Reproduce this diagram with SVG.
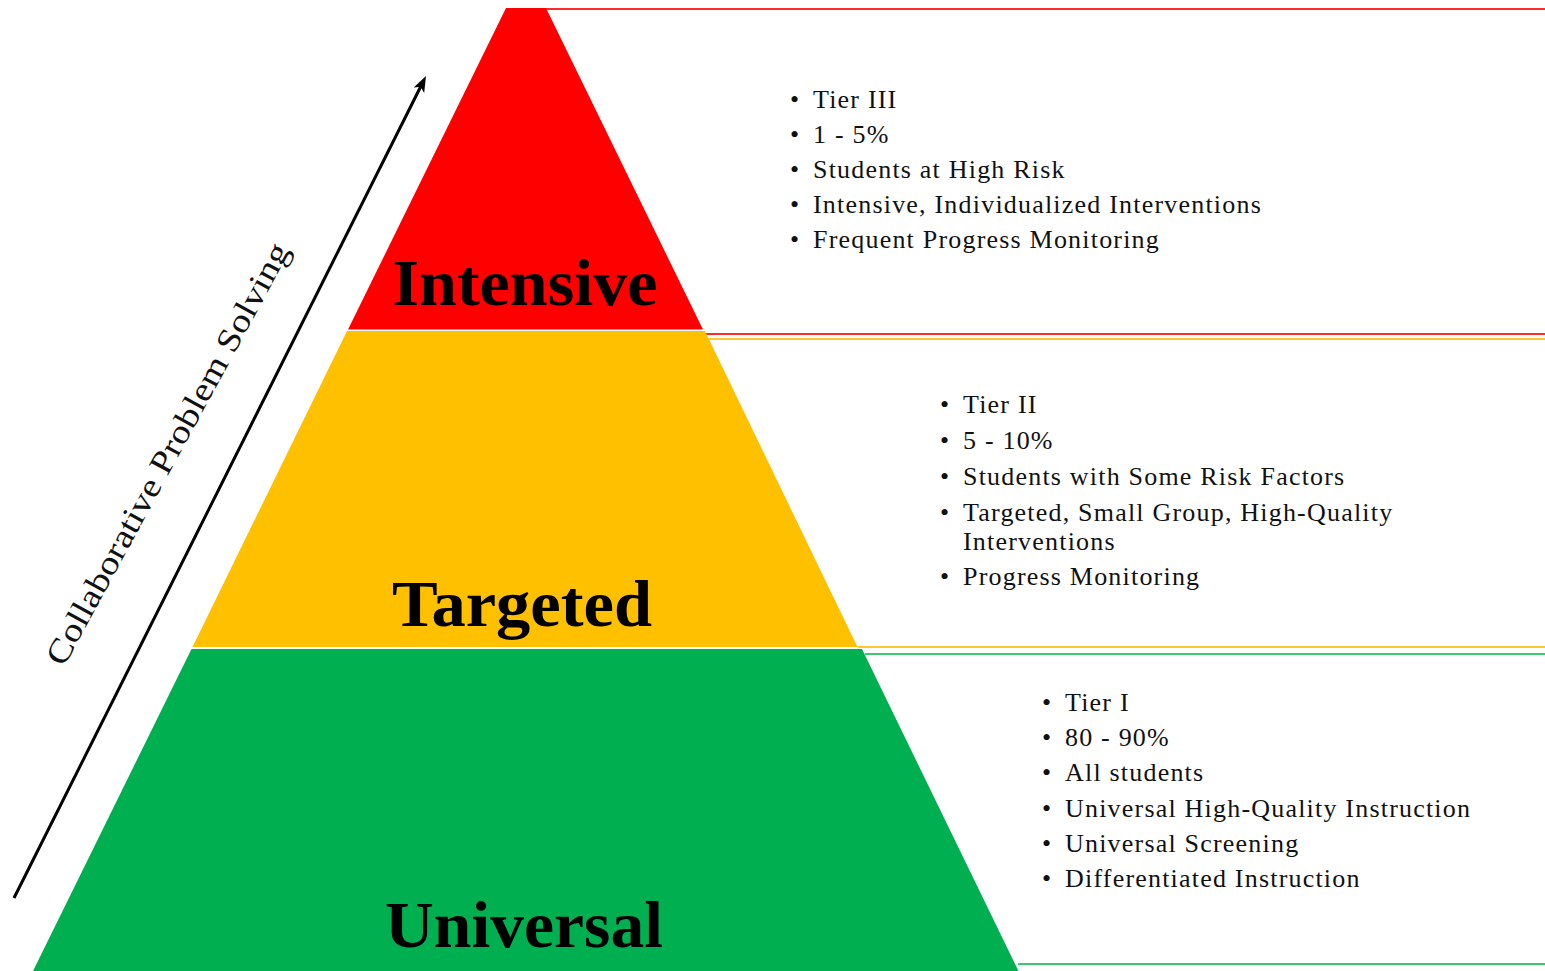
<svg xmlns="http://www.w3.org/2000/svg" width="1545" height="971" viewBox="0 0 1545 971">
<style>
.lbl{font-family:"Liberation Serif","Times New Roman",serif;font-weight:bold;font-size:66px;fill:#000;text-anchor:middle}
.bl{font-family:"Liberation Serif","Times New Roman",serif;font-size:26px;fill:#111;letter-spacing:1.2px}
.dot{font-family:"Liberation Serif","Times New Roman",serif;font-size:26px;fill:#111}
.side{font-family:"Liberation Serif","Times New Roman",serif;font-size:33px;fill:#111;text-anchor:middle}
</style>
<defs>
<marker id="ah" markerUnits="userSpaceOnUse" markerWidth="18" markerHeight="14" refX="6" refY="6" orient="auto">
<path d="M0,0 L16,6 L0,12 L4,6 z" fill="#000"/>
</marker>
</defs>
<rect width="1545" height="971" fill="#fff"/>
<g id="connectors">
<line x1="546" y1="9" x2="1545" y2="9" stroke="#ff2a2a" stroke-width="2"/>
<line x1="705" y1="334" x2="1545" y2="334" stroke="#ff2a2a" stroke-width="2"/>
<line x1="707" y1="339" x2="1545" y2="339" stroke="#ffc832" stroke-width="2"/>
<line x1="858" y1="647" x2="1545" y2="647" stroke="#ffc832" stroke-width="2"/>
<line x1="865" y1="654" x2="1545" y2="654" stroke="#3cc870" stroke-width="2"/>
<line x1="1018" y1="964" x2="1545" y2="964" stroke="#3cc870" stroke-width="2"/>
<line x1="14" y1="898" x2="421.5" y2="85" stroke="#000" stroke-width="3" marker-end="url(#ah)"/>
</g>
<g id="intensive">
<polygon points="506,8 546,8 703,329.5 348,329.5" fill="#ff0000"/>
<text class="lbl" x="525" y="305" textLength="265" lengthAdjust="spacingAndGlyphs">Intensive</text>
</g>
<g id="targeted">
<polygon points="347,331 705,331 857.5,647 192.5,647" fill="#ffc000"/>
<text class="lbl" x="522" y="626" textLength="260" lengthAdjust="spacingAndGlyphs">Targeted</text>
</g>
<g id="universal">
<polygon points="191.5,649 862,649 1018.5,971 33,971" fill="#00b050"/>
<text class="lbl" x="524" y="947" textLength="278" lengthAdjust="spacingAndGlyphs">Universal</text>
</g>
<g id="tier3-text">
<text class="dot" x="790" y="108">•</text><text class="bl" x="813" y="108">Tier III</text>
<text class="dot" x="790" y="143">•</text><text class="bl" x="813" y="143">1 - 5%</text>
<text class="dot" x="790" y="178">•</text><text class="bl" x="813" y="178">Students at High Risk</text>
<text class="dot" x="790" y="213">•</text><text class="bl" x="813" y="213">Intensive, Individualized Interventions</text>
<text class="dot" x="790" y="248">•</text><text class="bl" x="813" y="248">Frequent Progress Monitoring</text>
</g>
<g id="tier2-text">
<text class="dot" x="940" y="413">•</text><text class="bl" x="963" y="413">Tier II</text>
<text class="dot" x="940" y="449">•</text><text class="bl" x="963" y="449">5 - 10%</text>
<text class="dot" x="940" y="485">•</text><text class="bl" x="963" y="485">Students with Some Risk Factors</text>
<text class="dot" x="940" y="521">•</text><text class="bl" x="963" y="521">Targeted, Small Group, High-Quality</text>
<text class="bl" x="963" y="550">Interventions</text>
<text class="dot" x="940" y="585">•</text><text class="bl" x="963" y="585">Progress Monitoring</text>
</g>
<g id="tier1-text">
<text class="dot" x="1042" y="711">•</text><text class="bl" x="1065" y="711">Tier I</text>
<text class="dot" x="1042" y="746">•</text><text class="bl" x="1065" y="746">80 - 90%</text>
<text class="dot" x="1042" y="781">•</text><text class="bl" x="1065" y="781">All students</text>
<text class="dot" x="1042" y="817">•</text><text class="bl" x="1065" y="817">Universal High-Quality Instruction</text>
<text class="dot" x="1042" y="852">•</text><text class="bl" x="1065" y="852">Universal Screening</text>
<text class="dot" x="1042" y="887">•</text><text class="bl" x="1065" y="887">Differentiated Instruction</text>
</g>
<g id="side-label">
<text class="side" transform="translate(177,459) rotate(-61.5)" x="0" y="0" textLength="475" lengthAdjust="spacingAndGlyphs">Collaborative Problem Solving</text>
</g>
</svg>
